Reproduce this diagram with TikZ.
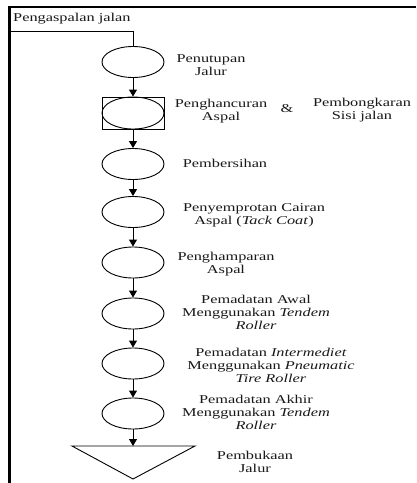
\documentclass[tikz,border=0pt]{standalone}
\usepackage{graphicx}
\usepackage{fontspec}
\setmainfont{Liberation Serif}
\usetikzlibrary{shapes.geometric,arrows.meta}
\newcommand{\wlb}[1]{\scalebox{1.36}[1]{\begin{tabular}{@{}c@{}}#1\end{tabular}}}
\begin{document}
\begin{tikzpicture}[x=1pt,y=-1pt,
  stepell/.style={draw,ellipse,line width=0.9pt,minimum width=62pt,minimum height=31pt,inner sep=0pt},
  stepbox/.style={draw,rectangle,line width=0.9pt,minimum width=62pt,minimum height=32pt,inner sep=0pt},
  lbl/.style={font=\fontsize{12}{13}\selectfont,text=black!90,inner sep=0pt},
  flow/.style={line width=0.9pt,-{Triangle[width=8pt,length=7pt]}},
  frame/.style={line width=2.4pt}]
\useasboundingbox (0,0) rectangle (416,483);
\fill[white] (0,0) rectangle (416,483);
% frame
\draw[frame] (416,7) -- (9.5,7) -- (9.5,483);
% header
\node[lbl,anchor=west] (hdr) at (13,19) {\wlb{Pengaspalan jalan}};
\coordinate (c0) at (10,31);
\coordinate (c1) at (133,31);
% steps
\node[stepell] (e1) at (133,62) {};
\node[stepbox] (b2) at (133,113) {};
\node[stepell,minimum height=32pt] (e2) at (133,113) {};
\node[stepell] (e3) at (133,164) {};
\node[stepell] (e4) at (133,212) {};
\node[stepell] (e5) at (133,262.5) {};
\node[stepell] (e6) at (133,313.5) {};
\node[stepell] (e7) at (133,363.5) {};
\node[stepell] (e8) at (133,413.5) {};
\coordinate (t) at (133,446);
\draw[line width=0.9pt] (72,446) -- (195,446) -- (133,479) -- cycle;
% connectors
\draw[line width=0.9pt] (c0) -- (c1) -- (e1.north);
\draw[flow] (e1) -- (b2);
\draw[flow] (b2) -- (e3);
\draw[flow] (e3) -- (e4);
\draw[flow] (e4) -- (e5);
\draw[flow] (e5) -- (e6);
\draw[flow] (e6) -- (e7);
\draw[flow] (e7) -- (e8);
\draw[flow] (e8) -- (t);
% labels
\node[lbl] (l1) at (211,66) {\wlb{Penutupan\\Jalur}};
\node[lbl] (l2) at (221,111.5) {\wlb{Penghancuran\\Aspal}};
\node[lbl] (amp) at (287,110) {\wlb{\&}};
\node[lbl] (l2b) at (362,110.5) {\wlb{Pembongkaran\\Sisi jalan}};
\node[lbl] (l3) at (225,165) {\wlb{Pembersihan}};
\node[lbl] (l4) at (254,215) {\wlb{Penyemprotan Cairan\\Aspal (\textit{Tack Coat})}};
\node[lbl] (l5) at (226,264) {\wlb{Penghamparan\\Aspal}};
\node[lbl] (l6) at (256,314) {\wlb{Pemadatan Awal\\Menggunakan \textit{Tendem}\\\textit{Roller}}};
\node[lbl] (l7) at (271,367) {\wlb{Pemadatan \textit{Intermediet}\\Menggunakan \textit{Pneumatic}\\\textit{Tire Roller}}};
\node[lbl] (l8) at (256,414) {\wlb{Pemadatan Akhir\\Menggunakan \textit{Tendem}\\\textit{Roller}}};
\node[lbl] (l9) at (255,463) {\wlb{Pembukaan\\Jalur}};
\end{tikzpicture}
\end{document}
